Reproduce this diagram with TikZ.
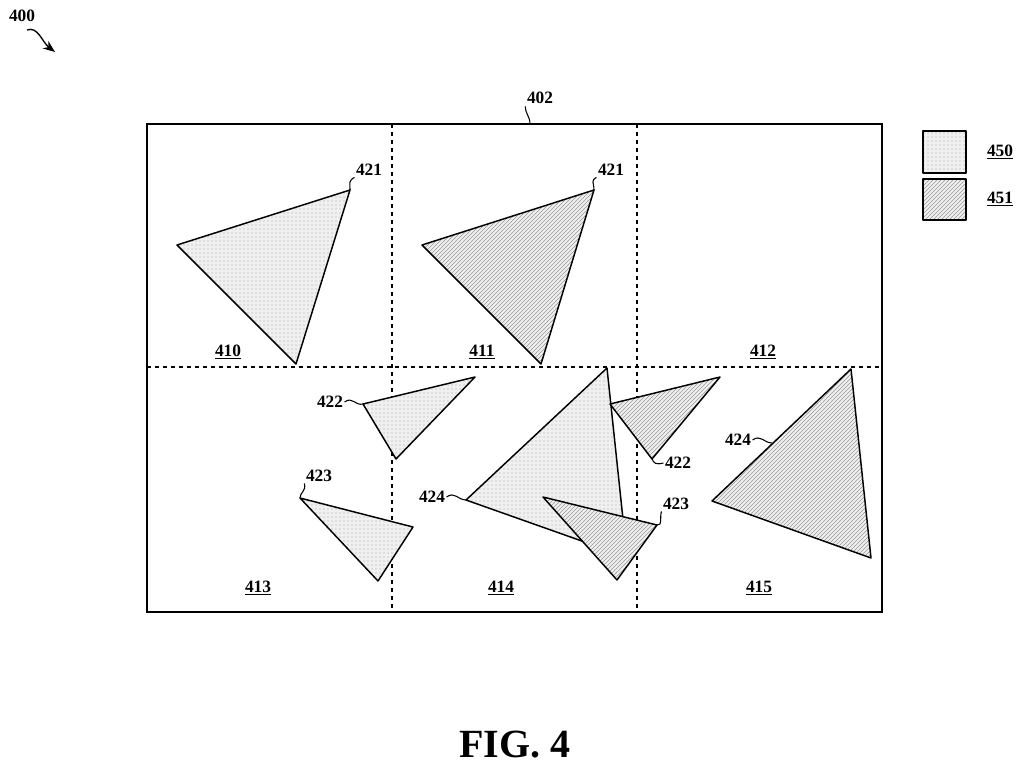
\documentclass[tikz,border=0pt]{standalone}
\usepackage{fontspec}
\setmainfont{Liberation Serif}
\usetikzlibrary{patterns,arrows.meta}
\begin{document}
\begin{tikzpicture}[x=0.75pt,y=-0.75pt,
  dotted tri/.style={draw,line width=1.1pt,line join=round,preaction={fill=gray!12},pattern=dots,pattern color=gray!70},
  hatched tri/.style={draw,line width=1.1pt,line join=round,preaction={fill=gray!12},pattern=north east lines,pattern color=gray!80},
  lab/.style={font=\bfseries\fontsize{13}{13}\selectfont,inner sep=1pt},
  reg/.style={font=\bfseries\fontsize{13}{13}\selectfont,inner sep=1pt},
  lead/.style={line width=0.8pt}]
\useasboundingbox (0,0) rectangle (1024,769);
% frame
\draw[line width=1.2pt] (147,124) rectangle (882,612);
\draw[dashed,line width=0.8pt] (392,124) -- (392,612) (637,124) -- (637,612) (147,367) -- (882,367);
% triangles
\coordinate (a1) at (177,245); \coordinate (a2) at (350,190); \coordinate (a3) at (296,364);
\draw[dotted tri] (a1) -- (a2) -- (a3) -- cycle;
\coordinate (b1) at (422,245); \coordinate (b2) at (594,190); \coordinate (b3) at (541,364);
\draw[hatched tri] (b1) -- (b2) -- (b3) -- cycle;
\coordinate (c1) at (363,404); \coordinate (c2) at (475,377); \coordinate (c3) at (396,459);
\draw[dotted tri] (c1) -- (c2) -- (c3) -- cycle;
\coordinate (d1) at (300,498); \coordinate (d2) at (413,527); \coordinate (d3) at (378,581);
\draw[dotted tri] (d1) -- (d2) -- (d3) -- cycle;
\coordinate (e1) at (466,500); \coordinate (e2) at (607,368); \coordinate (e3) at (627,557);
\draw[dotted tri] (e1) -- (e2) -- (e3) -- cycle;
\coordinate (f1) at (543,497); \coordinate (f2) at (657,525); \coordinate (f3) at (617,580);
\draw[hatched tri] (f1) -- (f2) -- (f3) -- cycle;
\coordinate (g1) at (610,404); \coordinate (g2) at (720,377); \coordinate (g3) at (652,459);
\draw[hatched tri] (g1) -- (g2) -- (g3) -- cycle;
\coordinate (h1) at (712,501); \coordinate (h2) at (851,369); \coordinate (h3) at (871,558);
\draw[hatched tri] (h1) -- (h2) -- (h3) -- cycle;
\coordinate (h4) at (772,443);
% region labels
\node[reg] at (228,352) {\underline{410}};
\node[reg] at (482,352) {\underline{411}};
\node[reg] at (763,352) {\underline{412}};
\node[reg] at (258,588) {\underline{413}};
\node[reg] at (501,588) {\underline{414}};
\node[reg] at (759,588) {\underline{415}};
% reference labels
\node[lab] (l402) at (540,98) {402};
\coordinate (fr) at (530,124);
\draw[lead] (l402.south west) ++(0,1) .. controls +(0,8) and +(0,-8) .. (fr);
\node[lab] (l421a) at (369,170) {421};
\draw[lead] (l421a.south west) .. controls +(-6,4) and +(0,-8) .. (a2);
\node[lab] (l421b) at (611,170) {421};
\draw[lead] (l421b.south west) .. controls +(-6,4) and +(0,-8) .. (b2);
\node[lab] (l422a) at (330,402) {422};
\draw[lead] (l422a.east) .. controls +(8,-6) and +(-8,2) .. (c1);
\node[lab] (l423a) at (319,476) {423};
\draw[lead] (l423a.south west) .. controls +(2,8) and +(0,-6) .. (d1);
\node[lab] (l424a) at (432,497) {424};
\draw[lead] (l424a.east) .. controls +(8,-6) and +(-8,0) .. (e1);
\node[lab] (l422b) at (678,463) {422};
\draw[lead] (l422b.west) .. controls +(-8,2) and +(2,4) .. (g3);
\node[lab] (l423b) at (676,504) {423};
\draw[lead] (l423b.south west) .. controls +(-2,8) and +(6,0) .. (f2);
\node[lab] (l424b) at (738,440) {424};
\draw[lead] (l424b.east) .. controls +(8,-6) and +(-8,0) .. (h4);
% legend
\draw[dotted tri,line width=1pt] (923,131) rectangle (966,173);
\draw[hatched tri,line width=1pt] (923,179) rectangle (966,220);
\node[reg] (k450) at (1000,152) {\underline{450}};
\node[reg] (k451) at (1000,199) {\underline{451}};
% figure number
\node[lab] (l400) at (22,16) {400};
\coordinate (ar) at (55,52);
\draw[line width=1pt,-{Stealth[length=9pt,width=7pt]}] (27,30) .. controls (38,26) and (42,42) .. (ar);
\node[font=\bfseries\fontsize{30}{30}\selectfont] (fig) at (515,745) {FIG. 4};
\end{tikzpicture}
\end{document}
